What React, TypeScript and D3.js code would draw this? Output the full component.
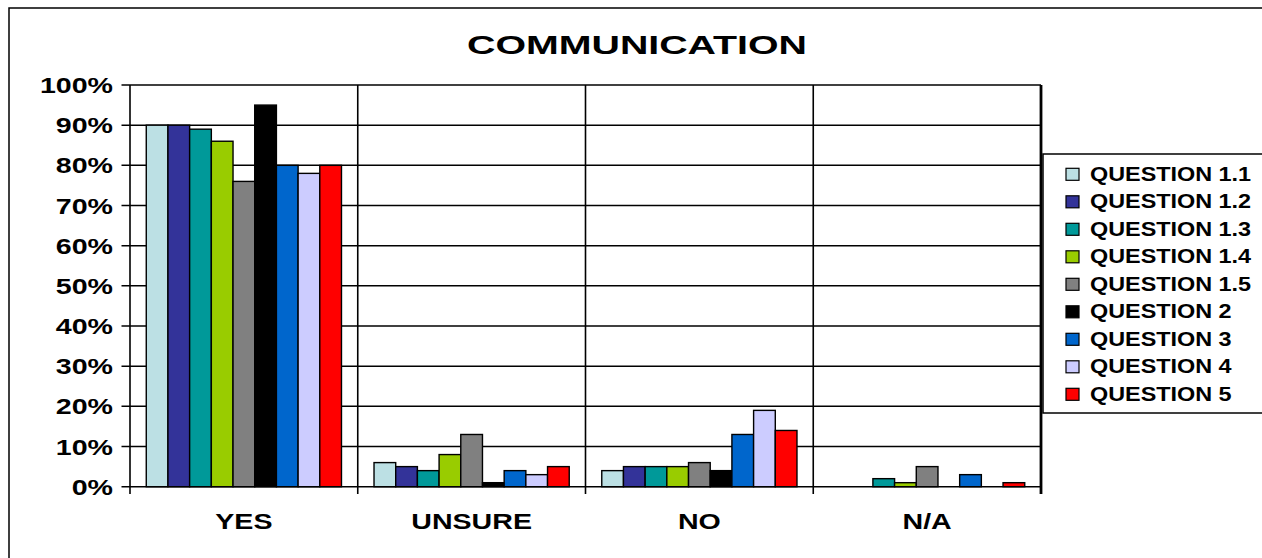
import React from "react";
import * as d3 from "d3";

// Response categories along the x axis
const categories = ["YES", "UNSURE", "NO", "N/A"];

// Series (one per question) and their colours
const seriesNames = [
  "QUESTION 1.1",
  "QUESTION 1.2",
  "QUESTION 1.3",
  "QUESTION 1.4",
  "QUESTION 1.5",
  "QUESTION 2",
  "QUESTION 3",
  "QUESTION 4",
  "QUESTION 5",
];
const seriesColors = [
  "#BCE0E4",
  "#333399",
  "#009999",
  "#99CC00",
  "#808080",
  "#000000",
  "#0066CC",
  "#CCCCFF",
  "#FF0000",
];

// Percentages per category (YES, UNSURE, NO, N/A)
const q11 = [90, 6, 4, 0];
const q12 = [90, 5, 5, 0];
const q13 = [89, 4, 5, 2];
const q14 = [86, 8, 5, 1];
const q15 = [76, 13, 6, 5];
const q2 = [95, 1, 4, 0];
const q3 = [80, 4, 13, 3];
const q4 = [78, 3, 19, 0];
const q5 = [80, 5, 14, 1];
const seriesValues = [q11, q12, q13, q14, q15, q2, q3, q4, q5];

const yTicks = [0, 10, 20, 30, 40, 50, 60, 70, 80, 90, 100];

const W = 1262;
const H = 558;
const plot = { left: 130, right: 1041, top: 85, bottom: 486.7 };
const FONT = "'Liberation Sans', Arial, Helvetica, sans-serif";

export default function App() {
  const x0 = d3
    .scaleBand<string>()
    .domain(categories)
    .range([plot.left, plot.right])
    .padding(0);
  const catW = x0.bandwidth();
  const barW = catW / (seriesNames.length + 1.5);
  const x1 = d3
    .scaleBand<string>()
    .domain(seriesNames)
    .range([barW * 0.75, catW - barW * 0.75])
    .padding(0);
  const y = d3.scaleLinear().domain([0, 100]).range([plot.bottom, plot.top]);

  const boundaries = categories.map((c) => x0(c) as number).concat([plot.right]);

  return (
    <svg
      width={W}
      height={H}
      style={{ position: "absolute", left: 0, top: 0, background: "#fff" }}
      fontFamily={FONT}
      fontWeight="bold"
    >
      {/* chart frame */}
      <rect x={9} y={8} width={W + 20} height={H + 20} fill="#fff" stroke="#000" strokeWidth={1.5} />

      {/* title */}
      <text
        x={637}
        y={54}
        fontSize={26}
        textAnchor="middle"
        textLength={340}
        lengthAdjust="spacingAndGlyphs"
        fill="#000"
      >
        COMMUNICATION
      </text>

      {/* horizontal gridlines and y ticks */}
      {yTicks.map((t) => (
        <g key={t}>
          <line x1={121.5} x2={plot.right} y1={y(t)} y2={y(t)} stroke="#000" strokeWidth={1.5} />
          <text
            transform={`translate(113,${y(t) + 8}) scale(1.3,1)`}
            fontSize={22}
            textAnchor="end"
            fill="#000"
          >
            {t}%
          </text>
        </g>
      ))}

      {/* vertical lines at category boundaries with ticks below the axis */}
      {boundaries.map((b, i) => (
        <line
          key={i}
          x1={b}
          x2={b}
          y1={plot.top}
          y2={494}
          stroke="#000"
          strokeWidth={i === boundaries.length - 1 ? 2.8 : 1.6}
        />
      ))}

      {/* bars */}
      {seriesNames.map((s, si) => (
        <g key={s}>
          {categories.map((c, ci) => {
            const v = seriesValues[si][ci];
            if (v <= 0) return null;
            const bx = (x0(c) as number) + (x1(s) as number);
            return (
              <rect
                key={c}
                x={bx}
                y={y(v)}
                width={x1.bandwidth()}
                height={y(0) - y(v)}
                fill={seriesColors[si]}
                stroke="#000"
                strokeWidth={1.4}
              />
            );
          })}
        </g>
      ))}

      {/* category labels */}
      {categories.map((c) => (
        <text
          key={c}
          transform={`translate(${(x0(c) as number) + catW / 2},529) scale(1.3,1)`}
          fontSize={22}
          textAnchor="middle"
          fill="#000"
        >
          {c}
        </text>
      ))}

      {/* legend */}
      <rect x={1043} y={154} width={240} height={259} fill="#fff" stroke="#000" strokeWidth={1.5} />
      {seriesNames.map((s, i) => {
        const ty = 168.3 + i * 27.5;
        return (
          <g key={s}>
            <rect x={1066} y={ty} width={13} height={12} fill={seriesColors[i]} stroke="#000" strokeWidth={1.2} />
            <text
              transform={`translate(1090,${ty + 12.5}) scale(1.2,1)`}
              fontSize={19.5}
              fill="#000"
            >
              {s}
            </text>
          </g>
        );
      })}
    </svg>
  );
}
